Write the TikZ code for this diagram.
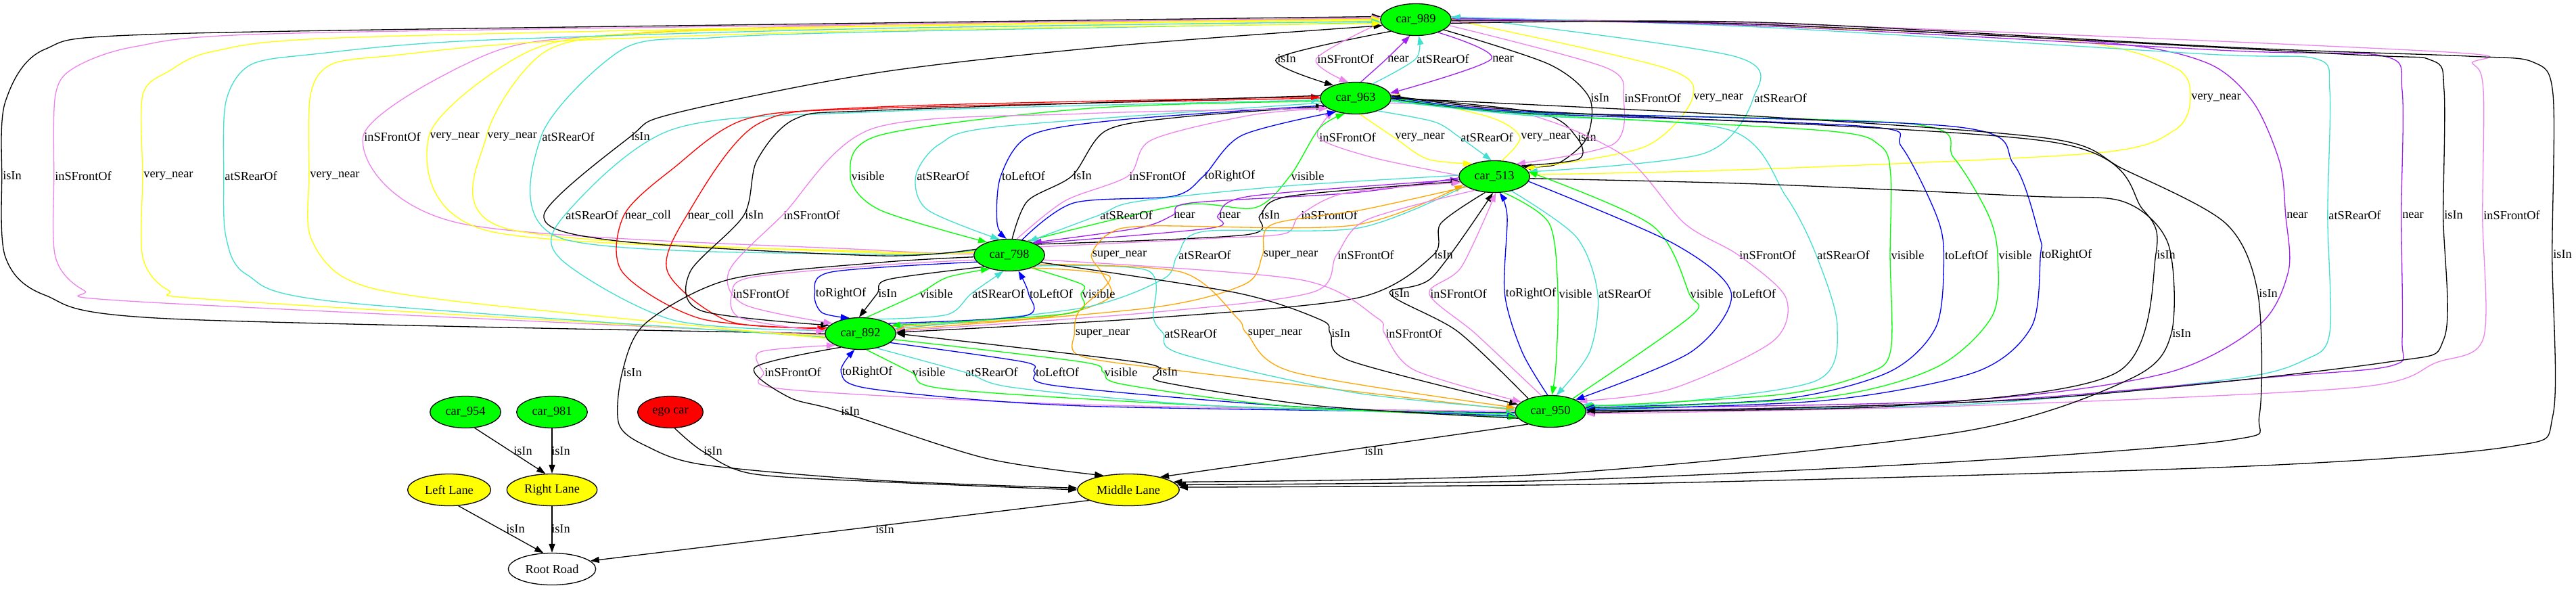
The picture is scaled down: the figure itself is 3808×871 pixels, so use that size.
\documentclass[tikz,border=0pt]{standalone}
\usepackage{fontspec}
\setmainfont{Liberation Serif}
\usetikzlibrary{shapes.geometric,arrows.meta}
\definecolor{gvgreen}{HTML}{00FF00}
\definecolor{gvblue}{HTML}{0000FF}
\definecolor{gvred}{HTML}{FF0000}
\definecolor{gvviolet}{HTML}{EE82EE}
\definecolor{gvpurple}{HTML}{A020F0}
\definecolor{gvturq}{HTML}{40E0D0}
\definecolor{gvyellow}{HTML}{FFFF00}
\definecolor{gvorange}{HTML}{FFA500}
\tikzset{
  ed/.style={line width=1pt,-{Triangle[length=10pt,width=7pt]}},
  lbl/.style={font=\fontsize{14}{16}\selectfont, inner sep=1pt},
  car/.style={ellipse, draw, line width=1pt, fill=gvgreen, minimum width=80pt, minimum height=36pt, inner sep=0pt, font=\fontsize{14}{16}\selectfont},
  lane/.style={ellipse, draw, line width=1pt, fill=gvyellow, minimum height=36pt, inner sep=0pt, font=\fontsize{14}{16}\selectfont},
  cK/.style={color=black}, cV/.style={color=gvviolet}, cP/.style={color=gvpurple},
  cT/.style={color=gvturq}, cY/.style={color=gvyellow}, cG/.style={color=gvgreen},
  cB/.style={color=gvblue}, cR/.style={color=gvred}, cO/.style={color=gvorange}
}
\newcounter{lc}
\newcommand\gedge[5]{\stepcounter{lc}\edef\lbn{lab\arabic{lc}}%
  \node[lbl] (\lbn) at (#3) {#2};%
  \draw[ed,#1] plot[smooth,tension=0.5] coordinates {#4 (\lbn.west) #5};}
\newcommand\sedge[5]{\stepcounter{lc}\edef\lbn{lab\arabic{lc}}%
  \node[lbl] (\lbn) at (#3) {#2};%
  \draw[ed,#1] (#4) -- (#5);}
\begin{document}
\begin{tikzpicture}[x=0.765pt,y=-0.765pt]
\useasboundingbox (0,0) rectangle (3808,871);
\fill[white] (0,0) rectangle (3808,871);
% nodes
\node[car] (c989) at (2093,29) {car\_989};
\node[car] (c963) at (2004,145) {car\_963};
\node[car] (c513) at (2209,261) {car\_513};
\node[car] (c798) at (1492,377) {car\_798};
\node[car] (c892) at (1272,493) {car\_892};
\node[car] (c950) at (2292,608) {car\_950};
\node[car] (c954) at (688,609) {car\_954};
\node[car] (c981) at (816,609) {car\_981};
\node[car,fill=gvred,minimum width=74pt] (ego) at (991,609) {ego car};
\node[lane,minimum width=94pt] (LL) at (664,724) {Left Lane};
\node[lane,minimum width=102pt] (RL) at (816,724) {Right Lane};
\node[lane,minimum width=115pt] (ML) at (1668,724) {Middle Lane};
\node[lane,fill=white,minimum width=99pt] (RR) at (816,841) {Root Road};
% A<->B
\gedge{cK}{isIn}{1902,87}{(c989.205)}{(c963.150)}
\gedge{cV}{inSFrontOf}{1989,87}{(c989.185)}{(c963.115)}
\gedge{cP}{near}{2067,87}{(c963.72)}{(c989.250)}
\gedge{cT}{atSRearOf}{2133,87}{(c963.40)}{(c989.280)}
\gedge{cP}{near}{2222,87}{(c989.330)}{(c963.8)}
% A->C
\gedge{cK}{isIn}{2365,145}{(c989.340) (2290,95)}{(2345,205) (2300,243) (c513.20)}
\gedge{cV}{inSFrontOf}{2443,145}{(c989.350) (2374,100)}{(2385,213) (c513.30)}
\gedge{cY}{very\_near}{2540,145}{(c989.0) (2460,100)}{(2431,217) (c513.15)}
\gedge{cT}{atSRearOf}{2632,145}{(c989.5) (2563,83)}{(2518,227) (c513.8)}
\gedge{cY}{very\_near}{3276,145}{(c513.3) (2600,250) (3100,226) (3215,192)}{(3215,100) (3060,60) (2600,38) (c989.2)}
% B<->C
\gedge{cV}{inSFrontOf}{1992,203}{(c513.178) (2030,233)}{(c963.210)}
\gedge{cY}{very\_near}{2099,203}{(c963.285)}{(2110,235) (c513.150)}
\gedge{cT}{atSRearOf}{2198,203}{(c963.330) (2120,180)}{(c513.100)}
\gedge{cY}{very\_near}{2285,203}{(c513.65)}{(2202,173) (c963.5)}
\gedge{cK}{isIn}{2346,203}{(c513.22) (2334,235)}{(2276,167) (c963.2)}
% D->A
\gedge{cV}{inSFrontOf}{580,202}{(c798.178) (1300,370) (680,330)}{(721,80) (900,52) (1300,36) (c989.178)}
\gedge{cY}{very\_near}{672,202}{(c798.176) (1300,372) (721,341)}{(779,77) (950,48) (1300,39) (c989.180)}
\gedge{cY}{very\_near}{757,202}{(c798.174) (1300,374) (746,337)}{(808,75) (980,48) (1300,42) (c989.182)}
\gedge{cT}{atSRearOf}{840,202}{(c798.172) (1300,376) (829,352)}{(920,73) (1050,56) (1300,47) (c989.185)}
\gedge{cK}{isIn}{947,202}{(c798.170) (1300,378) (912,356) (804,318)}{(995,168) (1300,107) (1657,67) (c989.190)}
% E->A
\gedge{cK}{isIn}{18,260}{(c892.180) (249,471) (66,436) (8,380)}{(8,150) (66,73) (249,50) (1300,34) (c989.175)}
\gedge{cV}{inSFrontOf}{123,260}{(c892.182) (207,446) (124,429) (82,380)}{(82,140) (110,100) (199,69) (400,50) (1300,36) (c989.177)}
\gedge{cY}{very\_near}{249,260}{(c892.184) (332,444) (249,429) (211,380)}{(211,140) (250,105) (315,76) (500,56) (1300,38) (c989.179)}
\gedge{cT}{atSRearOf}{371,260}{(c892.186) (498,446) (365,406) (334,350)}{(334,150) (370,96) (464,80) (700,60) (1300,42) (c989.183)}
\gedge{cY}{very\_near}{495,260}{(c892.188) (663,444) (514,413) (459,350)}{(459,140) (490,95) (581,82) (800,62) (1300,45) (c989.186)}
% B<->D
\gedge{cG}{visible}{1283,260}{(c963.185) (1612,160) (1300,200)}{(1300,310) (c798.150)}
\gedge{cT}{atSRearOf}{1394,260}{(c963.188) (1479,187) (1389,213)}{(1371,310) (c798.122)}
\gedge{cB}{toLeftOf}{1513,260}{(c963.193) (1657,177) (1523,200)}{(1474,330) (c798.100)}
\gedge{cK}{isIn}{1600,260}{(c798.80) (1519,297)}{(1635,193) (1746,173) (c963.195)}
\gedge{cV}{inSFrontOf}{1711,260}{(c798.65) (1574,297)}{(1702,207) (1850,170) (c963.200)}
\gedge{cB}{toRightOf}{1818,260}{(c798.50) (1587,300) (1734,290)}{(1836,200) (c963.215)}
\gedge{cG}{visible}{1933,260}{(c798.38) (1746,303) (1855,307)}{(1950,190) (c963.235)}
% B<->E
\gedge{cT}{atSRearOf}{875,318}{(c892.175) (995,473) (829,383)}{(995,191) (1300,165) (c963.183)}
\gedge{cR}{near\_coll}{958,318}{(c963.180) (1300,160) (1103,176) (995,249)}{(920,402) (1036,471) (c892.172)}
\gedge{cR}{near\_coll}{1051,318}{(c892.170) (1078,475) (987,402)}{(1119,184) (1300,158) (c963.178)}
\gedge{cK}{isIn}{1115,318}{(c963.176) (1300,163) (1177,175) (1119,237)}{(1020,402) (1036,459) (c892.165)}
\gedge{cV}{inSFrontOf}{1200,318}{(c963.200) (1600,168) (1290,190)}{(1078,400) (1100,450) (c892.160)}
% C<->D
\gedge{cT}{atSRearOf}{1665,318}{(c513.178) (1900,275) (1680,298)}{(c798.35)}
\gedge{cP}{near}{1751,318}{(c513.182) (2000,285) (1760,300)}{(1683,337) (c798.28)}
\gedge{cP}{near}{1818,318}{(c798.25) (1791,337)}{(1848,290) (c513.185)}
\gedge{cK}{isIn}{1878,318}{(c798.22) (1842,347)}{(1906,290) (c513.188)}
\gedge{cV}{inSFrontOf}{1965,318}{(c798.15) (1800,352) (1900,345)}{(1990,285) (c513.190)}
% A<->F
\gedge{cP}{near}{3396,318}{(c950.5) (2900,592) (3200,552) (3340,480) (3383,400)}{(3370,240) (3330,150) (3260,92) (3100,62) (2600,36) (c989.2)}
\gedge{cT}{atSRearOf}{3481,318}{(c950.2) (2900,598) (3300,560) (3409,531) (3444,491)}{(3444,134) (3424,87) (3262,80) (2600,40) (c989.4)}
\gedge{cP}{near}{3567,318}{(c989.1) (2600,38) (3300,75) (3524,83) (3551,134)}{(3551,500) (3537,540) (3363,557) (2900,595) (c950.0)}
\gedge{cK}{isIn}{3627,318}{(c989.358) (2600,36) (3463,80) (3594,89) (3613,134)}{(3613,500) (3524,536) (3000,590) (c950.358)}
\gedge{cV}{inSFrontOf}{3713,318}{(c989.356) (2600,34) (3601,76) (3655,94) (3671,134)}{(3671,500) (3601,536) (3479,573) (2900,600) (c950.356)}
% C<->E
\gedge{cO}{super\_near}{1655,377}{(c892.12) (1550,468) (1640,440) (1630,405)}{(1640,345) (1700,334) (2000,333) (c513.195)}
\gedge{cT}{atSRearOf}{1781,377}{(c513.198) (2008,337) (1780,342)}{(1720,412) (1600,455) (c892.8)}
\gedge{cO}{super\_near}{1908,377}{(c513.200) (2014,310) (1880,332)}{(1840,420) (1700,455) (c892.6)}
\gedge{cV}{inSFrontOf}{2019,377}{(c513.215) (2020,325)}{(1940,432) (1700,462) (c892.4)}
\gedge{cK}{isIn}{2134,377}{(c513.240) (2130,330)}{(2008,440) (1700,470) (c892.2)}
% B->F
\gedge{cV}{inSFrontOf}{2613,377}{(c963.352) (2250,167) (2400,230) (2490,330)}{(2640,440) (2620,505) (2470,575) (c950.20)}
\gedge{cT}{atSRearOf}{2725,377}{(c963.355) (2250,170) (2556,192) (2640,290)}{(2716,483) (2684,563) (2450,597) (c950.12)}
\gedge{cG}{visible}{2820,377}{(c963.357) (2250,168) (2696,193) (2779,215) (2795,260)}{(2795,517) (2760,552) (2633,583) (c950.8)}
\gedge{cB}{toLeftOf}{2907,377}{(c963.359) (2250,167) (2760,187) (2811,217) (2862,317)}{(2862,483) (2792,550) (2633,590) (c950.6)}
\gedge{cG}{visible}{2979,377}{(c963.1) (2250,166) (2824,183) (2888,233) (2939,317)}{(2945,467) (2862,543) (2696,587) (c950.4)}
\gedge{cB}{toRightOf}{3055,377}{(c963.3) (2250,165) (2888,187) (2977,243) (3015,350)}{(3003,483) (2920,550) (2696,592) (c950.3)}
\gedge{cK}{isIn}{3202,377}{(c963.5) (2250,163) (3034,210) (3168,310)}{(3130,550) (2800,600) (c950.1)}
% ->Middle Lane (right)
\gedge{cK}{isIn}{3788,376}{(c989.354) (2600,33) (3300,70) (3648,83) (3745,92) (3774,140)}{(3774,613) (3711,660) (3300,690) (2400,715) (ML.3)}
\gedge{cK}{isIn}{3353,434}{(c963.0) (2600,172) (3031,205) (3139,250) (3290,330)}{(3340,613) (3300,650) (2900,682) (2300,710) (ML.6)}
\gedge{cK}{isIn}{3225,493}{(c513.357) (2600,272) (3000,290) (3139,298) (3205,360)}{(3149,560) (2900,638) (2300,700) (ML.10)}
% D<->E
\gedge{cV}{inSFrontOf}{1125,434}{(c798.188) (1300,392) (1110,410)}{(1095,470) (c892.177)}
\gedge{cB}{toRightOf}{1243,434}{(c798.192) (1229,402)}{(1215,462) (c892.125)}
\gedge{cK}{isIn}{1312,434}{(c798.205) (1313,413)}{(c892.95)}
\gedge{cG}{visible}{1384,434}{(c892.70)}{(1400,410) (c798.215)}
\gedge{cT}{atSRearOf}{1476,434}{(c892.40) (1400,465)}{(c798.250)}
\gedge{cB}{toLeftOf}{1554,434}{(c892.20) (1514,467)}{(c798.300)}
\gedge{cG}{visible}{1624,434}{(c798.330) (1599,420)}{(1581,463) (c892.15)}
% C<->F
\gedge{cK}{isIn}{2070,434}{(c950.150) (2155,490)}{(2117,410) (c513.265)}
\gedge{cV}{inSFrontOf}{2156,434}{(c950.120) (2181,493)}{(2160,395) (c513.275)}
\gedge{cB}{toRightOf}{2263,434}{(c950.100) (2250,520)}{(2228,320) (c513.288)}
\gedge{cG}{visible}{2329,434}{(c513.300) (2290,330)}{(2300,540) (c950.85)}
\gedge{cT}{atSRearOf}{2402,434}{(c513.320) (2330,350)}{(2350,520) (c950.70)}
\gedge{cG}{visible}{2523,434}{(c950.30) (2500,467)}{(2442,333) (c513.8)}
\gedge{cB}{toLeftOf}{2593,434}{(c513.352) (2474,360)}{(2500,520) (c950.25)}
% D->F
\gedge{cO}{super\_near}{1630,493}{(c798.330) (1640,408) (1595,460)}{(1595,525) (1720,545) (c950.178)}
\gedge{cT}{atSRearOf}{1760,493}{(c798.338) (1697,400) (1705,470)}{(1746,523) (2000,580) (c950.176)}
\gedge{cO}{super\_near}{1885,493}{(c798.343) (1746,402) (1829,470)}{(1912,550) (c950.174)}
\gedge{cK}{isIn}{1982,493}{(c798.347) (1829,433) (1953,473)}{(1995,533) (c950.168)}
\gedge{cV}{inSFrontOf}{2090,493}{(c798.352) (1920,413) (2036,470)}{(2091,547) (c950.162)}
% E<->F
\gedge{cV}{inSFrontOf}{1172,550}{(c950.180) (1600,598) (1158,575)}{(1124,520) (c892.205)}
\gedge{cB}{toRightOf}{1282,550}{(c950.182) (1600,600) (1290,575)}{(c892.250)}
\gedge{cG}{visible}{1373,550}{(c892.290)}{(1400,575) (1800,600) (c950.184)}
\gedge{cT}{atSRearOf}{1466,550}{(c892.318)}{(1500,573) (1800,600) (c950.186)}
\gedge{cB}{toLeftOf}{1563,550}{(c892.343) (1514,535)}{(1560,570) (1900,600) (c950.188)}
\gedge{cG}{visible}{1657,550}{(c892.350) (1600,535)}{(1660,568) (1900,600) (c950.190)}
\gedge{cK}{isIn}{1727,550}{(c950.192) (1950,600) (1720,565)}{(1680,535) (c892.0)}
% lanes and road
\gedge{cK}{isIn}{935,551}{(c798.183) (1300,388) (1078,413) (954,478)}{(915,627) (957,660) (1041,687) (1300,710) (ML.178)}
\gedge{cK}{isIn}{1257,608}{(c892.215) (1116,543) (1166,587)}{(1456,677) (ML.150)}
\gedge{cK}{isIn}{1054,667}{(ego.285)}{(1111,700) (1300,712) (ML.180)}
\sedge{cK}{isIn}{2031,667}{c950.210}{ML.22}
\sedge{cK}{isIn}{773,667}{c954.300}{RL.112}
\sedge{cK}{isIn}{829,667}{c981.270}{RL.90}
\sedge{cK}{isIn}{762,782}{LL.300}{RR.118}
\sedge{cK}{isIn}{829,782}{RL.270}{RR.90}
\sedge{cK}{isIn}{1308,783}{ML.195}{RR.12}
\end{tikzpicture}
\end{document}
